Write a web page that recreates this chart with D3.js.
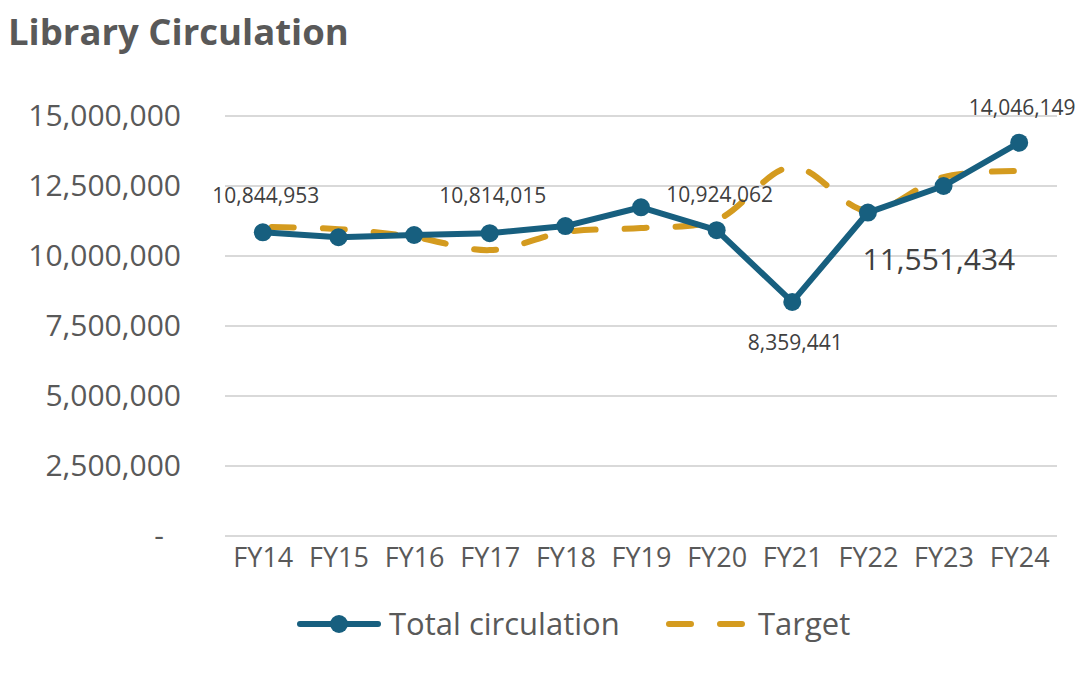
<!DOCTYPE html>
<html>
<head>
<meta charset="utf-8">
<script src="https://cdn.jsdelivr.net/npm/d3@7/dist/d3.min.js"></script>
<style>
  html, body { margin: 0; padding: 0; background: #fff; }
  svg { display: block; font-family: "Open Sans", "Noto Sans", sans-serif; }
</style>
</head>
<body>
<svg id="chart" width="1089" height="677"></svg>
<script>
// ---- data ----
const categories = ["FY14","FY15","FY16","FY17","FY18","FY19","FY20","FY21","FY22","FY23","FY24"];
const totalCirculation = [10844953, 10670000, 10750000, 10814015, 11070000, 11740000, 10924062, 8359441, 11551434, 12500000, 14046149];
const target = [11040000, 10960000, 10680000, 10210000, 10860000, 11000000, 11290000, 13180000, 11610000, 12820000, 13040000];
const yTicks = [0, 2500000, 5000000, 7500000, 10000000, 12500000, 15000000];
const labeledPoints = ["FY14", "FY17", "FY20", "FY21", "FY22", "FY24"];

// ---- layout ----
const W = 1089, H = 677;
const plot = { left: 225, right: 1057, top: 116, bottom: 536 };
const blue = "#175f7f", gold = "#d49b1f", grid = "#d9d9d9", axisText = "#595959", labelText = "#404040";

const svg = d3.select("#chart");

svg.append("text")
  .attr("x", 8).attr("y", 45)
  .attr("font-size", 36.5).attr("font-weight", 700)
  .attr("fill", "#595959")
  .text("Library Circulation");

const x = d3.scalePoint().domain(categories).range([plot.left, plot.right]).padding(0.5);
const y = d3.scaleLinear().domain([0, 15000000]).range([plot.bottom, plot.top]);

// gridlines
svg.append("g").selectAll("line").data(yTicks).join("line")
  .attr("x1", plot.left).attr("x2", plot.right)
  .attr("y1", d => y(d)).attr("y2", d => y(d))
  .attr("stroke", grid).attr("stroke-width", 2);

// y axis
const fmt = d3.format(",");
const yAxis = d3.axisLeft(y).tickValues(yTicks).tickSize(0).tickPadding(0)
  .tickFormat(d => d === 0 ? "-" : fmt(d));
const gy = svg.append("g").attr("transform", `translate(181,0)`).call(yAxis);
gy.select(".domain").remove();
gy.selectAll("text")
  .attr("font-family", "'Open Sans', sans-serif")
  .attr("font-size", 30).attr("fill", axisText)
  .attr("dx", d => d === 0 ? -17 : 0);

// x axis
const xAxis = d3.axisBottom(x).tickSize(0).tickPadding(0);
const gx = svg.append("g").attr("transform", `translate(0,${plot.bottom})`).call(xAxis);
gx.select(".domain").remove();
gx.selectAll("text")
  .attr("font-family", "'Open Sans', sans-serif")
  .attr("font-size", 27).attr("fill", axisText)
  .attr("dy", null).attr("y", 31);

// target line (smoothed, dashed)
const targetLine = d3.line()
  .x((d, i) => x(categories[i]))
  .y(d => y(d))
  .curve(d3.curveCatmullRom);
svg.append("path")
  .datum(target)
  .attr("d", targetLine)
  .attr("fill", "none")
  .attr("stroke", gold)
  .attr("stroke-width", 6)
  .attr("stroke-linecap", "round")
  .attr("stroke-dasharray", "22,29")
  .attr("stroke-dashoffset", 42);

// total circulation line
const totalLine = d3.line()
  .x((d, i) => x(categories[i]))
  .y(d => y(d));
svg.append("path")
  .datum(totalCirculation)
  .attr("d", totalLine)
  .attr("fill", "none")
  .attr("stroke", blue)
  .attr("stroke-width", 6)
  .attr("stroke-linejoin", "round");

svg.append("g").selectAll("circle").data(totalCirculation).join("circle")
  .attr("cx", (d, i) => x(categories[i]))
  .attr("cy", d => y(d))
  .attr("r", 9)
  .attr("fill", blue);

// data labels
const labelStyle = {
  FY14: { dx: 3, dy: -29, size: 21 },
  FY17: { dx: 3, dy: -30, size: 21 },
  FY20: { dx: 3, dy: -28, size: 21 },
  FY21: { dx: 3, dy: 48, size: 21 },
  FY22: { dx: 71, dy: 57, size: 30 },
  FY24: { dx: 3, dy: -28, size: 21 }
};
svg.append("g").selectAll("text").data(labeledPoints).join("text")
  .attr("x", c => x(c) + labelStyle[c].dx)
  .attr("y", c => y(totalCirculation[categories.indexOf(c)]) + labelStyle[c].dy)
  .attr("text-anchor", "middle")
  .attr("font-size", c => labelStyle[c].size)
  .attr("fill", labelText)
  .text(c => fmt(totalCirculation[categories.indexOf(c)]));

// legend
const lg = svg.append("g");
const ly = 624;
lg.append("line").attr("x1", 300).attr("x2", 378).attr("y1", ly).attr("y2", ly)
  .attr("stroke", blue).attr("stroke-width", 6).attr("stroke-linecap", "round");
lg.append("circle").attr("cx", 339).attr("cy", ly).attr("r", 9).attr("fill", blue);
lg.append("text").attr("x", 389).attr("y", ly).attr("dy", "0.35em")
  .attr("font-size", 31).attr("fill", axisText).text("Total circulation");
lg.append("line").attr("x1", 669).attr("x2", 742).attr("y1", ly).attr("y2", ly)
  .attr("stroke", gold).attr("stroke-width", 6).attr("stroke-linecap", "round")
  .attr("stroke-dasharray", "22,29");
lg.append("text").attr("x", 758).attr("y", ly).attr("dy", "0.35em")
  .attr("font-size", 31).attr("fill", axisText).text("Target");
</script>
</body>
</html>
